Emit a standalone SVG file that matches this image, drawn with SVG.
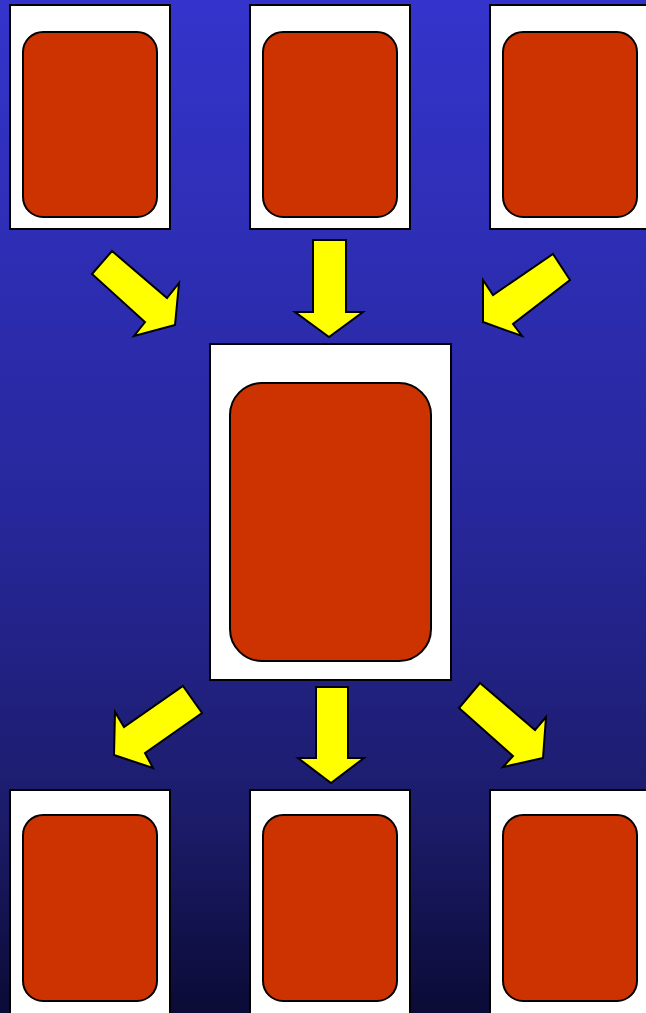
<svg xmlns="http://www.w3.org/2000/svg" width="646" height="1013" viewBox="0 0 646 1013">
<defs>
<linearGradient id="bg" x1="0" y1="0" x2="0" y2="1">
<stop offset="0" stop-color="#3434cc"/>
<stop offset="0.5" stop-color="#27279c"/>
<stop offset="0.8" stop-color="#1c1c6c"/>
<stop offset="1" stop-color="#0b0b36"/>
</linearGradient>
</defs>
<style>
.card{fill:#ffffff;stroke:#000000;stroke-width:2}
.face{fill:#cc3300;stroke:#000000;stroke-width:2}
.arrow{fill:#ffff00;stroke:#000000;stroke-width:2;stroke-linejoin:miter}
</style>
<rect x="0" y="0" width="646" height="1013" fill="url(#bg)"/>
<g id="card-top-left"><rect class="card" x="10" y="5" width="160" height="224"/><rect class="face" x="23" y="32" width="134" height="185" rx="20"/></g>
<g id="card-top-middle"><rect class="card" x="250" y="5" width="160" height="224"/><rect class="face" x="263" y="32" width="134" height="185" rx="20"/></g>
<g id="card-top-right"><rect class="card" x="490" y="5" width="160" height="224"/><rect class="face" x="503" y="32" width="134" height="185" rx="20"/></g>
<g id="card-center"><rect class="card" x="210" y="344" width="241" height="336"/><rect class="face" x="230" y="383" width="201" height="278" rx="32"/></g>
<g id="card-bottom-left"><rect class="card" x="10" y="790" width="160" height="230"/><rect class="face" x="23" y="815" width="134" height="186" rx="20"/></g>
<g id="card-bottom-middle"><rect class="card" x="250" y="790" width="160" height="230"/><rect class="face" x="263" y="815" width="134" height="186" rx="20"/></g>
<g id="card-bottom-right"><rect class="card" x="490" y="790" width="160" height="230"/><rect class="face" x="503" y="815" width="134" height="186" rx="20"/></g>
<g id="connectors">
<polygon class="arrow" points="112,251 167,298 179,283 175,325 134,336 145,322 92,274"/>
<polygon class="arrow" points="313,240 346,240 346,312 363,312 329,337 295,312 313,312"/>
<polygon class="arrow" points="553,254 570,280 513,324 522,336 483,322 483,280 493,295"/>
<polygon class="arrow" points="183,686 202,713 145,753 153,768 114,755 115,712 124,727"/>
<polygon class="arrow" points="316,687 348,687 348,758 364,758 331,783 298,758 316,758"/>
<polygon class="arrow" points="480,683 535,730 546,717 543,758 503,767 513,756 459,708"/>
</g>
</svg>
